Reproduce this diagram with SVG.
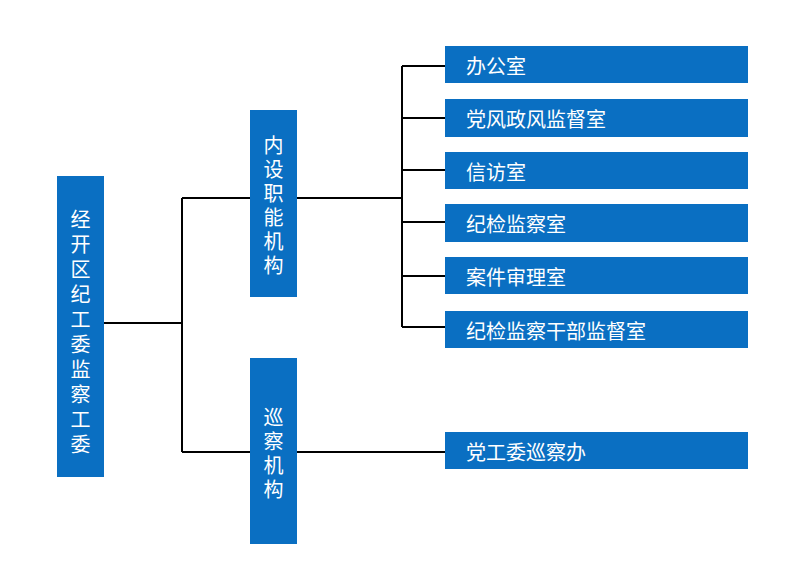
<svg xmlns="http://www.w3.org/2000/svg" width="800" height="586" viewBox="0 0 800 586">
<style>
.box{fill:#0A6FC2;}
.t{fill:#fff;font-family:"Noto Sans CJK SC","Noto Sans",sans-serif;font-size:20px;}
.v{fill:#fff;font-family:"Liberation Sans","Noto Sans CJK SC",sans-serif;font-size:20px;text-anchor:middle;dominant-baseline:central;}
.h{dominant-baseline:central;}
.ln{stroke:#000;stroke-width:2;fill:none;}
</style>
<rect width="800" height="586" fill="#fff"/>
<g id="connectors">
<path class="ln" d="M104 323H182M182 198V452M182 198H250M182 452H250M297 198H402M402 66V327M402 66H445M402 118H445M402 170H445M402 222H445M402 276H445M402 327H445M297 452H445"/>
</g>
<g id="root">
<rect class="box" x="57" y="176" width="47" height="301"/>
<text class="v" x="80.5" y="220">经</text><text class="v" x="80.5" y="245">开</text><text class="v" x="80.5" y="270">区</text><text class="v" x="80.5" y="295">纪</text><text class="v" x="80.5" y="320">工</text><text class="v" x="80.5" y="345">委</text><text class="v" x="80.5" y="370">监</text><text class="v" x="80.5" y="395">察</text><text class="v" x="80.5" y="420">工</text><text class="v" x="80.5" y="445">委</text>
</g>
<g id="internal">
<rect class="box" x="250" y="110" width="47" height="187"/>
<text class="v" x="273.5" y="146">内</text><text class="v" x="273.5" y="170">设</text><text class="v" x="273.5" y="194">职</text><text class="v" x="273.5" y="218">能</text><text class="v" x="273.5" y="242">机</text><text class="v" x="273.5" y="266">构</text>
</g>
<g id="inspection">
<rect class="box" x="250" y="358" width="47" height="186"/>
<text class="v" x="273.5" y="418">巡</text><text class="v" x="273.5" y="442">察</text><text class="v" x="273.5" y="466">机</text><text class="v" x="273.5" y="490">构</text>
</g>
<g id="office1"><rect class="box" x="445" y="46" width="303" height="37"/><text class="t h" x="466" y="65">办公室</text></g>
<g id="office2"><rect class="box" x="445" y="99" width="303" height="38"/><text class="t h" x="466" y="118">党风政风监督室</text></g>
<g id="office3"><rect class="box" x="445" y="152" width="303" height="37"/><text class="t h" x="466" y="171">信访室</text></g>
<g id="office4"><rect class="box" x="445" y="204" width="303" height="38"/><text class="t h" x="466" y="223">纪检监察室</text></g>
<g id="office5"><rect class="box" x="445" y="257" width="303" height="37"/><text class="t h" x="466" y="276">案件审理室</text></g>
<g id="office6"><rect class="box" x="445" y="311" width="303" height="37"/><text class="t h" x="466" y="330">纪检监察干部监督室</text></g>
<g id="office7"><rect class="box" x="445" y="432" width="303" height="37"/><text class="t h" x="466" y="451">党工委巡察办</text></g>
</svg>
